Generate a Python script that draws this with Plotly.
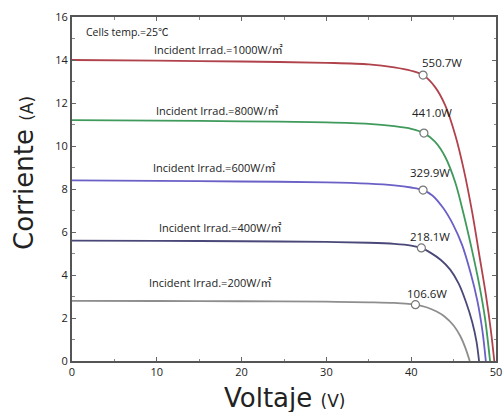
import plotly.graph_objects as go

# ---- data ----
V_1000 = [0, 10, 20, 30, 35, 38, 40, 41.4, 42.8, 44.0, 45.2, 46.2, 47.2, 48.0, 48.8, 49.4, 49.8]
I_1000 = [14.0, 13.97, 13.93, 13.87, 13.8, 13.66, 13.5, 13.3, 12.75, 11.9, 10.5, 8.9, 6.9, 5.0, 3.1, 1.4, 0]

V_800 = [0, 10, 20, 30, 35, 38, 40, 41.5, 42.8, 44.0, 45.2, 46.2, 47.2, 48.0, 48.7, 49.3]
I_800 = [11.2, 11.18, 11.15, 11.1, 11.03, 10.92, 10.8, 10.6, 10.2, 9.5, 8.3, 6.8, 5.1, 3.6, 2.0, 0]

V_600 = [0, 10, 20, 30, 35, 38, 40, 41.4, 42.5, 43.8, 45.0, 46.0, 47.0, 47.8, 48.4, 48.8]
I_600 = [8.4, 8.38, 8.35, 8.31, 8.25, 8.17, 8.07, 7.95, 7.7, 7.1, 6.3, 5.4, 4.1, 2.8, 1.4, 0]

V_400 = [0, 10, 20, 30, 35, 38, 40, 41.2, 42.3, 43.5, 44.6, 45.6, 46.5, 47.2, 47.7, 48.0]
I_400 = [5.6, 5.59, 5.57, 5.54, 5.5, 5.45, 5.37, 5.26, 5.03, 4.7, 4.25, 3.6, 2.7, 1.8, 0.9, 0]

V_200 = [0, 10, 20, 30, 35, 38, 40, 40.5, 41.8, 43.0, 44.0, 45.0, 45.8, 46.4, 46.9]
I_200 = [2.8, 2.79, 2.78, 2.76, 2.73, 2.7, 2.64, 2.62, 2.5, 2.3, 2.05, 1.65, 1.15, 0.6, 0]

mpp_V = [41.4, 41.5, 41.4, 41.2, 40.5]
mpp_I = [13.3, 10.6, 7.95, 5.26, 2.62]
mpp_labels = ["550.7W", "441.0W", "329.9W", "218.1W", "106.6W"]
mpp_label_V = [43.6, 42.5, 42.2, 42.2, 41.9]
mpp_label_I = [13.9, 11.58, 8.79, 5.77, 3.12]

irrad_labels = ["Incident Irrad.=1000W/㎡", "Incident Irrad.=800W/㎡", "Incident Irrad.=600W/㎡",
                "Incident Irrad.=400W/㎡", "Incident Irrad.=200W/㎡"]
irrad_label_V = [9.4, 9.7, 9.3, 10.0, 8.9]
irrad_label_I = [14.5, 11.67, 8.98, 6.23, 3.63]

x_ticks = [0, 10, 20, 30, 40, 50]
y_ticks = [0, 2, 4, 6, 8, 10, 12, 14, 16]

colors = ["#b0424c", "#3f9a5c", "#6a60c6", "#4a4878", "#8e8e8e"]

curves = [(V_1000, I_1000), (V_800, I_800), (V_600, I_600), (V_400, I_400), (V_200, I_200)]

fig = go.Figure()
for (v, i), c in zip(curves, colors):
    fig.add_trace(go.Scatter(x=v, y=i, mode="lines", line=dict(color=c, width=1.8, shape="spline", smoothing=0.9),
                             showlegend=False, hoverinfo="skip"))

fig.add_trace(go.Scatter(x=mpp_V, y=mpp_I, mode="markers",
                         marker=dict(symbol="circle", size=8, color="white", line=dict(color="#777", width=1.2)),
                         showlegend=False, hoverinfo="skip"))

font_main = "Open Sans, Lato, Noto Sans CJK SC, sans-serif"

annotations = []
annotations.append(dict(x=1.4, y=15.3, xref="x", yref="y", text="Cells temp.=25℃", showarrow=False,
                        xanchor="left", yanchor="middle", font=dict(size=10.5, color="#222", family=font_main)))
for t, xv, yv in zip(irrad_labels, irrad_label_V, irrad_label_I):
    annotations.append(dict(x=xv, y=yv, xref="x", yref="y", text=t, showarrow=False,
                            xanchor="left", yanchor="middle", font=dict(size=11, color="#222", family=font_main)))
for t, xv, yv in zip(mpp_labels, mpp_label_V, mpp_label_I):
    annotations.append(dict(x=xv, y=yv, xref="x", yref="y", text=t, showarrow=False,
                            xanchor="center", yanchor="middle", font=dict(size=11.5, color="#222", family=font_main)))

annotations.append(dict(x=0.5, y=-0.1076, xref="paper", yref="paper",
                        text="Voltaje <span style='font-size:17px'>(V)</span>", showarrow=False,
                        xanchor="center", yanchor="middle",
                        font=dict(size=26, color="#222", family="DejaVu Sans, sans-serif")))
annotations.append(dict(x=-0.113, y=0.547, xref="paper", yref="paper", textangle=-90,
                        text="Corriente <span style='font-size:17px'>(A)</span>", showarrow=False,
                        xanchor="center", yanchor="middle",
                        font=dict(size=26, color="#222", family="DejaVu Sans, sans-serif")))

axis_common = dict(showline=True, linecolor="#555", linewidth=2, mirror="allticks",
                   ticks="inside", ticklen=4, tickcolor="#666", tickwidth=1,
                   showgrid=False, zeroline=False, automargin=False,
                   tickfont=dict(size=11, color="#222", family=font_main))

fig.update_xaxes(range=[0, 50], tickvals=x_ticks, ticktext=[str(t) for t in x_ticks],
                 minor=dict(dtick=5, ticks="inside", ticklen=2.5, tickcolor="#888", showgrid=False),
                 **axis_common)
fig.update_yaxes(range=[0, 16], tickvals=y_ticks, ticktext=[str(t) for t in y_ticks],
                 minor=dict(dtick=1, ticks="inside", ticklen=2.5, tickcolor="#888", showgrid=False),
                 **axis_common)

fig.update_layout(width=504, height=412, margin=dict(l=72, r=8, t=17, b=51),
                  paper_bgcolor="white", plot_bgcolor="white", annotations=annotations)

# remove the default 8px page margin so the figure fills the 504x412 window exactly
fig.write_html("out.html", config={"displayModeBar": False},
               post_script="document.body.style.margin='0';document.body.style.overflow='hidden';")
